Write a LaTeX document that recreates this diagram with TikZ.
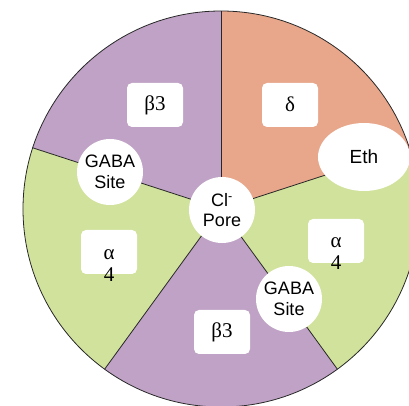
\documentclass[tikz,border=0pt]{standalone}
\usepackage{fontspec}
\setmainfont{Liberation Sans}
\newfontfamily\grk{Liberation Serif}
\usetikzlibrary{shapes.geometric}
\definecolor{subpurple}{RGB}{191,162,197}
\definecolor{subgreen}{RGB}{208,226,155}
\definecolor{subsalmon}{RGB}{232,166,138}
\definecolor{edgecol}{RGB}{40,40,40}
\tikzset{
  sector/.style={draw=edgecol, line width=0.8pt},
  labelbox/.style={fill=white, rounded corners=5pt, minimum width=56pt, minimum height=44pt, inner sep=0pt},
  greektxt/.style={font=\grk\fontsize{21}{22}\selectfont, align=center, inner sep=0pt},
  sitecirc/.style={circle, fill=white, minimum size=66pt, inner sep=0pt, align=center, font=\fontsize{18}{21}\selectfont},
}
\begin{document}
\begin{tikzpicture}[x=1pt,y=1pt]
\useasboundingbox (0,0) rectangle (409,406);
\clip (0,0) rectangle (409,406);
\coordinate (c) at (221,197);
\fill[subpurple] (c) -- ++(90:198) arc (90:162:198) -- cycle;
\fill[subgreen] (c) -- ++(162:198) arc (162:234:198) -- cycle;
\fill[subpurple] (c) -- ++(234:198) arc (234:306:198) -- cycle;
\fill[subgreen] (c) -- ++(306:198) arc (306:378:198) -- cycle;
\fill[subsalmon] (c) -- ++(18:198) arc (18:90:198) -- cycle;
\draw[sector] (c) circle (198);
\foreach \a in {18,90,162,234,306} \draw[sector] (c) -- ++(\a:198);
% label boxes
\node[labelbox] (b3top) at (155,301) {};
\node[greektxt] (b3toptxt) at (155,301) {β3};
\node[labelbox] (dbox) at (290,301) {};
\node[greektxt] (dtxt) at (290,302) {δ};
\node[labelbox] (a4lbox) at (109,154) {};
\node[greektxt] (a4ltxt) at (109,140) {α\\4};
\node[labelbox] (a4rbox) at (336,165) {};
\node[greektxt] (a4rtxt) at (336,152) {α\\4};
\node[labelbox] (b3bot) at (222,74) {};
\node[greektxt] (b3bottxt) at (222,74) {β3};
% circles
\node[sitecirc] (pore) at (222,196) {Cl\textsuperscript{-}\\[-1pt]Pore};
\node[sitecirc] (gabal) at (110,234) {GABA\\Site};
\node[sitecirc] (gabar) at (289,107) {GABA\\Site};
\node[ellipse, fill=white, minimum width=92pt, minimum height=68pt, inner sep=0pt, font=\fontsize{19}{20}\selectfont] (eth) at (364,249) {Eth};
\end{tikzpicture}
\end{document}
